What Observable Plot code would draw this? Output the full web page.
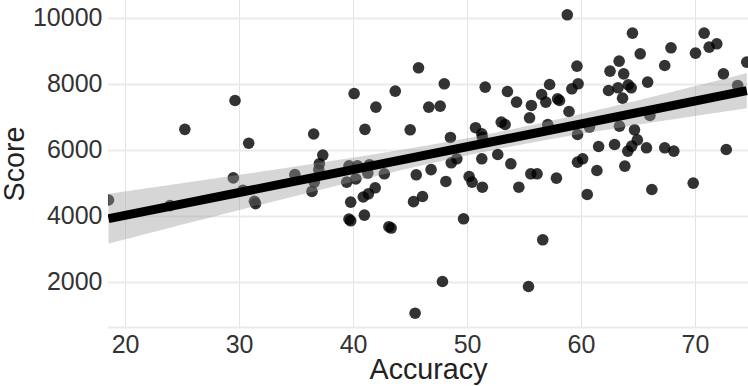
<!DOCTYPE html>
<html>
<head>
<meta charset="utf-8">
<script src="https://cdn.jsdelivr.net/npm/d3@7"></script>
<script src="https://cdn.jsdelivr.net/npm/@observablehq/plot@0.6"></script>
<style>
  html, body { margin: 0; padding: 0; background: #fff; }
  svg { display: block; }
</style>
</head>
<body>
<div id="chart"></div>
<script>
const accuracy = [
  18.5, 23.9, 25.2, 29.6, 29.45, 30.8, 30.3, 31.4, 31.3, 34.85,
  36.5, 37.3, 37.0, 36.95, 36.55, 36.35, 40.05, 41.0, 41.96, 43.66,
  45.7, 44.97, 46.6, 47.6, 39.6, 40.35, 41.4, 41.25, 42.7, 40.2,
  39.4, 41.9, 39.75, 40.85, 41.3, 39.6, 39.75, 40.95, 43.1, 43.3,
  45.26, 46.05, 45.4, 45.5, 46.8, 47.96, 48.1, 48.5, 48.57, 49.06,
  49.65, 47.8, 50.14, 50.4, 51.3, 51.25, 50.7, 51.25, 51.3, 51.55,
  52.65, 52.96, 53.3, 53.5, 53.8, 54.3, 54.5, 55.44, 55.6, 55.55,
  56.1, 55.35, 56.5, 56.87, 57.04, 57.2, 56.6, 57.8, 57.9, 58.07,
  58.75, 58.9, 59.15, 59.7, 59.6, 59.65, 59.65, 60.1, 60.7, 60.5,
  61.5, 61.35, 62.37, 62.5, 62.9, 63.3, 63.2, 63.33, 63.6, 63.7,
  63.8, 64.06, 64.1, 64.36, 64.4, 64.47, 64.65, 64.9, 65.15, 65.7,
  65.8, 66.0, 66.17, 67.3, 67.3, 67.85, 68.1, 69.8, 70.0, 70.76,
  71.2, 71.87, 72.45, 72.7, 73.7, 74.5
];
const score = [
  4500, 4330, 6640, 7515, 5170, 6220, 4790, 4390, 4460, 5270,
  6500, 5860, 5600, 5420, 5040, 4760, 7725, 6640, 7313, 7798,
  8506, 6627, 7313, 7343, 5535, 5535, 5570, 5317, 5294, 5140,
  5040, 4870, 4434, 4590, 4686, 3920, 3870, 4040, 3690, 3650,
  4450, 4606, 1070, 5263, 5420, 8021, 5061, 6395, 5627, 5748,
  3930, 2030, 5212, 5040, 4888, 5748, 6690, 6505, 6400, 7919,
  5879, 6858, 6788, 7788, 5597, 7465, 4888, 6991, 7364, 5294,
  5294, 1879, 7697, 7465, 6788, 8000, 3294, 5161, 7567, 7515,
  10112, 7182, 7869, 8021, 8555, 6485, 5646, 5748, 6710, 4667,
  6121, 5394, 7818, 8404, 6182, 8707, 7899, 6737, 7586, 8323,
  5525, 5980, 7990, 7899, 6131, 9556, 6627, 6323, 8930, 6081,
  8071, 7061, 4818, 8576, 6081, 9111, 5980, 5010, 8950, 9556,
  9132, 9233, 8323, 6030, 7970, 8677
];
const xTicks = [20, 30, 40, 50, 60, 70];
const yTicks = [2000, 4000, 6000, 8000, 10000];
const xTitle = "Accuracy";
const yTitle = "Score";

const data = accuracy.map((a, i) => ({accuracy: a, score: score[i]}));

const font = "'Liberation Sans', Arial, Helvetica, sans-serif";

const chart = Plot.plot({
  width: 748,
  height: 386,
  marginLeft: 108,
  marginRight: 0,
  marginTop: 0,
  marginBottom: 59,
  style: {fontFamily: font, background: "#fff", overflow: "hidden"},
  x: {domain: [18.5, 74.65]},
  y: {domain: [636, 10545]},
  marks: [
    Plot.gridX(xTicks, {stroke: "#e3e3e3", strokeOpacity: 1, strokeWidth: 1}),
    Plot.gridY(yTicks, {stroke: "#ebebeb", strokeOpacity: 1, strokeWidth: 2}),
    Plot.ruleY([636], {stroke: "#ebebeb", strokeWidth: 2}),
    Plot.dot(data, {x: "accuracy", y: "score", r: 5.8, fill: "#000", fillOpacity: 0.8, stroke: "none", clip: true}),
    Plot.linearRegressionY(data, {x: "accuracy", y: "score", stroke: "#000", strokeWidth: 9, strokeLinecap: "butt", fill: "#999", fillOpacity: 0.4, ci: 0.95, clip: true}),
    Plot.axisX(xTicks, {tickSize: 0, tickPadding: 8, fontSize: 25, color: "#333", label: null, tickFormat: d => String(d)}),
    Plot.axisY(yTicks, {tickSize: 0, tickPadding: 6, fontSize: 25, color: "#333", label: null, tickFormat: d => String(d)}),
    Plot.text([xTitle], {text: d => d, frameAnchor: "bottom", textAnchor: "middle", lineAnchor: "middle", dy: 42, fontSize: 28.7, fill: "#222"}),
    Plot.text([yTitle], {text: d => d, frameAnchor: "left", textAnchor: "middle", lineAnchor: "middle", dx: -94, rotate: -90, fontSize: 28.7, fill: "#222"})
  ]
});
document.getElementById("chart").appendChild(chart);
</script>
</body>
</html>
